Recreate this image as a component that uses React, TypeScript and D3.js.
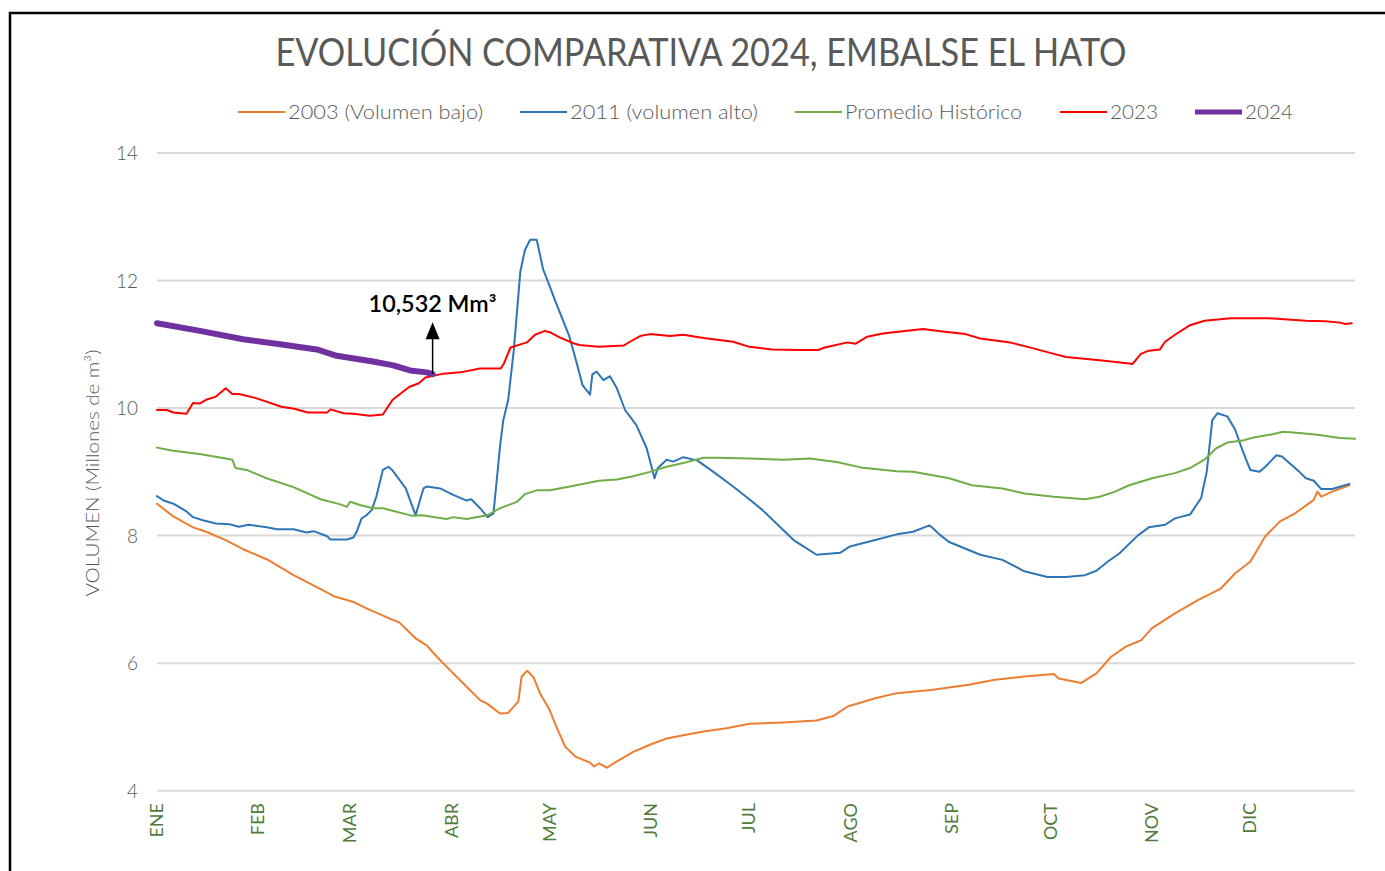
import React from 'react';
import * as d3 from 'd3';

// day of year -> volume (Mm3)
const months = ['ENE', 'FEB', 'MAR', 'ABR', 'MAY', 'JUN', 'JUL', 'AGO', 'SEP', 'OCT', 'NOV', 'DIC'];
const monthStart = [0, 31, 59, 90, 120, 151, 181, 212, 243, 273, 304, 334];
const yTicks = [4, 6, 8, 10, 12, 14];

const s2003: [number, number][] = [
  [0, 8.5], [5, 8.3], [11, 8.13], [15, 8.06], [21, 7.93], [27, 7.77], [33.5, 7.63], [41.7, 7.38],
  [50, 7.16], [54, 7.05], [58, 6.99], [60, 6.96], [64, 6.86], [72, 6.68], [74, 6.64], [79, 6.39],
  [82.4, 6.28], [85.5, 6.1], [89.5, 5.89], [93.6, 5.68], [98.7, 5.42], [100.7, 5.37], [104.8, 5.21],
  [107.3, 5.22], [110.4, 5.4], [111.4, 5.79], [113.1, 5.88], [115, 5.78], [117, 5.53], [120, 5.26],
  [122, 5.0], [124.7, 4.69], [128, 4.53], [132.3, 4.44], [133.5, 4.38], [135, 4.43], [137.4, 4.36],
  [140.5, 4.46], [145.5, 4.61], [150.6, 4.72], [155.7, 4.82], [160.8, 4.87], [167, 4.93], [174, 4.98],
  [181, 5.05], [191.4, 5.07], [201.5, 5.1], [206.6, 5.17], [211, 5.32], [219.4, 5.45], [226, 5.53],
  [236.5, 5.58], [248, 5.66], [256, 5.74], [265, 5.79], [274, 5.83], [275.5, 5.76], [282.4, 5.69],
  [287, 5.84], [291.5, 6.1], [296, 6.26], [300.7, 6.36], [304, 6.55], [311, 6.78], [318, 6.99],
  [325, 7.17], [329.4, 7.41], [334, 7.59], [338.6, 7.99], [343, 8.22], [347.7, 8.35], [353.4, 8.56],
  [354.5, 8.69], [355.7, 8.61], [359, 8.69], [364.3, 8.79],
];

const s2011: [number, number][] = [
  [0, 8.62], [2, 8.55], [5, 8.5], [9, 8.38], [11, 8.29], [14, 8.24], [18, 8.19], [22, 8.18], [25, 8.14],
  [28, 8.17], [33.5, 8.13], [36.6, 8.1], [41.7, 8.1], [45.7, 8.05], [47.8, 8.07], [52, 7.99], [53, 7.94],
  [58, 7.94], [60, 7.97], [61, 8.06], [62.5, 8.27], [64, 8.32], [65.6, 8.4], [67, 8.61], [69, 9.03],
  [70.7, 9.08], [72, 9.02], [76, 8.74], [79, 8.32], [81.4, 8.74], [82.4, 8.77], [86.5, 8.74], [90.5, 8.64],
  [94.6, 8.55], [96, 8.57], [98.7, 8.43], [101, 8.29], [102.8, 8.35], [104.8, 9.4], [105.8, 9.81],
  [107.3, 10.13], [109, 10.91], [111, 12.14], [112.4, 12.48], [114, 12.64], [116, 12.64], [118, 12.17],
  [120, 11.91], [121.6, 11.69], [124, 11.38], [126, 11.12], [128, 10.75], [130, 10.36], [132.3, 10.21],
  [133, 10.53], [134.3, 10.57], [136.4, 10.44], [138.4, 10.5], [140.5, 10.31], [143, 9.97], [146.5, 9.73],
  [149.6, 9.37], [152, 8.9], [153, 9.06], [155.7, 9.19], [157.7, 9.16], [160.8, 9.23], [165, 9.18],
  [170, 9.0], [176, 8.77], [180, 8.61], [185, 8.4], [194.5, 7.93], [197.5, 7.83], [201.5, 7.7],
  [208.7, 7.73], [211.7, 7.83], [219.4, 7.93], [226, 8.02], [231, 8.06], [236, 8.16], [237, 8.12],
  [239, 8.02], [242, 7.9], [251.5, 7.7], [258.3, 7.62], [265, 7.44], [272, 7.35], [277.7, 7.35],
  [283.5, 7.38], [287, 7.45], [290.4, 7.59], [294, 7.72], [299.6, 8.0], [303, 8.13], [308, 8.17],
  [311, 8.27], [315.6, 8.33], [319, 8.59], [320.7, 9.0], [322.4, 9.81], [324, 9.92], [327, 9.87],
  [329.4, 9.66], [331.6, 9.34], [334, 9.03], [336.8, 9.0], [338.6, 9.08], [342, 9.26], [343.7, 9.24],
  [345.5, 9.16], [349, 9.0], [351, 8.9], [353.4, 8.86], [355.7, 8.73], [359, 8.73], [364.3, 8.81],
];

const sPromedio: [number, number][] = [
  [0, 9.38], [5, 9.33], [13, 9.28], [21, 9.21], [23, 9.19], [24, 9.06], [27.4, 9.03], [33.5, 8.9],
  [41.7, 8.76], [50, 8.57], [56, 8.49], [58, 8.45], [59, 8.53], [62, 8.48], [66, 8.43], [69, 8.43],
  [72, 8.39], [78, 8.31], [81, 8.32], [83.4, 8.3], [88.5, 8.26], [90.5, 8.29], [94.6, 8.26], [98.7, 8.3],
  [101, 8.32], [104.8, 8.43], [110, 8.53], [112.4, 8.65], [116, 8.71], [120, 8.71], [125, 8.76],
  [130, 8.81], [135, 8.86], [140.5, 8.88], [145.5, 8.93], [150.6, 9.0], [155.7, 9.08], [160.8, 9.14],
  [167, 9.22], [171, 9.22], [181, 9.21], [191.4, 9.19], [199.5, 9.21], [208, 9.15], [215, 9.07],
  [226, 9.01], [231, 9.0], [242, 8.9], [249, 8.79], [258.3, 8.74], [265, 8.66], [274, 8.61], [283.5, 8.57],
  [288, 8.61], [292.7, 8.69], [297, 8.79], [304, 8.9], [311, 8.98], [315.6, 9.06], [320, 9.19],
  [323.6, 9.37], [327, 9.46], [331.6, 9.49], [335, 9.54], [340.8, 9.59], [344, 9.63], [349, 9.61],
  [354.5, 9.58], [361.4, 9.53], [366, 9.52],
];

const s2023: [number, number][] = [
  [0, 9.97], [3, 9.97], [5, 9.93], [9, 9.91], [11, 10.08], [13, 10.07], [15, 10.13], [18, 10.18],
  [21, 10.31], [23, 10.22], [25, 10.22], [30, 10.16], [38, 10.02], [42, 9.99], [46, 9.93], [52, 9.93],
  [53, 9.98], [57, 9.92], [60, 9.91], [65, 9.88], [69, 9.9], [72, 10.13], [77, 10.33], [80, 10.39],
  [82, 10.48], [87.5, 10.54], [92.6, 10.56], [98.7, 10.62], [105, 10.62], [106, 10.7], [108, 10.95],
  [113, 11.03], [115.5, 11.15], [118.5, 11.21], [120, 11.19], [123, 11.11], [127, 11.02], [129, 10.99],
  [135, 10.96], [142.5, 10.98], [144.5, 11.04], [147.6, 11.13], [150.6, 11.16], [156.7, 11.13],
  [160.8, 11.15], [167, 11.1], [176, 11.04], [181, 10.96], [188, 10.92], [196.5, 10.91], [202, 10.91],
  [204, 10.95], [211, 11.03], [213.5, 11.01], [217, 11.12], [221.7, 11.17], [228.5, 11.21], [234, 11.24],
  [240, 11.2], [247, 11.16], [251.5, 11.09], [260.6, 11.03], [267.5, 10.94], [274, 10.85], [277.7, 10.8],
  [288, 10.75], [297, 10.7], [298, 10.69], [300.6, 10.85], [303, 10.9], [306.4, 10.92], [308, 11.04],
  [311, 11.15], [315.6, 11.3], [320, 11.37], [328, 11.41], [339.6, 11.41], [351, 11.37], [357, 11.36],
  [361.4, 11.34], [363, 11.32], [365, 11.33],
];

const s2024: [number, number][] = [
  [0, 11.33], [13.1, 11.21], [26.3, 11.08], [37.6, 11.0], [48.8, 10.92], [54.9, 10.82], [66, 10.73],
  [72.2, 10.67], [77.3, 10.59], [82.4, 10.56], [84.2, 10.532],
];

const series = [
  { name: '2003 (Volumen bajo)', data: s2003, color: '#ED7D31', width: 2 },
  { name: '2011 (volumen alto)', data: s2011, color: '#2E75B6', width: 2 },
  { name: 'Promedio Histórico', data: sPromedio, color: '#70AD47', width: 2 },
  { name: '2023', data: s2023, color: '#FF0000', width: 2 },
  { name: '2024', data: s2024, color: '#7030A0', width: 6 },
];

const legendX = [238, 520, 795, 1060, 1195];
const legendTextLen = [195, 188, 177, 48, 48];

const font = 'Lato, "Open Sans", sans-serif';

export default function App() {
  const x = d3.scaleLinear().domain([0, 366]).range([157, 1355]);
  const y = d3.scaleLinear().domain([4, 14]).range([790.7, 153]);

  const line = d3
    .line<[number, number]>()
    .x((d) => x(d[0]))
    .y((d) => y(d[1]));

  const last = s2024[s2024.length - 1];
  const ax = x(last[0]);
  const ay = y(last[1]);

  return (
    <svg width={1385} height={871} style={{ position: 'absolute', left: 0, top: 0, background: '#fff' }}>
      <path d="M10 871 V13 H1385" fill="none" stroke="#000" strokeWidth={2.5} />

      <text x={701} y={66} textAnchor="middle" fontFamily={font} fontSize={38} fill="#595959"
        textLength={851} lengthAdjust="spacingAndGlyphs">
        EVOLUCIÓN COMPARATIVA 2024, EMBALSE EL HATO
      </text>

      {series.map((s, i) => (
        <g key={s.name}>
          <line x1={legendX[i]} x2={legendX[i] + 47} y1={112} y2={112} stroke={s.color}
            strokeWidth={s.width === 6 ? 5 : 2} />
          <text x={legendX[i] + 50} y={119} fontFamily={font} fontSize={19} fontWeight={300} fill="#595959"
            textLength={legendTextLen[i]} lengthAdjust="spacingAndGlyphs">
            {s.name}
          </text>
        </g>
      ))}

      {yTicks.map((t) => (
        <g key={t}>
          <line x1={157} x2={1355} y1={y(t)} y2={y(t)} stroke="#D9D9D9" strokeWidth={2} />
          <text x={138} y={y(t) + 7} textAnchor="end" fontFamily={font} fontSize={19} fontWeight={300}
            fill="#595959">
            {t}
          </text>
        </g>
      ))}

      <text transform="translate(99,473) rotate(-90)" textAnchor="middle" fontFamily={font} fontSize={18}
        fontWeight={300} fill="#595959" textLength={247} lengthAdjust="spacingAndGlyphs">
        VOLUMEN (Millones de m³)
      </text>

      {months.map((m, i) => (
        <text key={m} transform={`translate(${x(monthStart[i]) + 6},803) rotate(-90)`} textAnchor="end"
          fontFamily={font} fontSize={18} fill="#4F7B3B">
          {m}
        </text>
      ))}

      {series.map((s) => (
        <path key={s.name} d={line(s.data) ?? ''} fill="none" stroke={s.color} strokeWidth={s.width}
          strokeLinejoin="round" strokeLinecap="round" />
      ))}

      <line x1={ax} x2={ax} y1={ay} y2={ay - 36} stroke="#000" strokeWidth={1.5} />
      <path d={`M${ax - 7},${ay - 35} L${ax + 7},${ay - 35} L${ax},${ay - 52} Z`} fill="#000" />
      <text x={ax} y={312} textAnchor="middle" fontFamily={font} fontSize={22} fontWeight={600} fill="#000"
        textLength={128} lengthAdjust="spacingAndGlyphs">
        10,532 Mm³
      </text>
    </svg>
  );
}
